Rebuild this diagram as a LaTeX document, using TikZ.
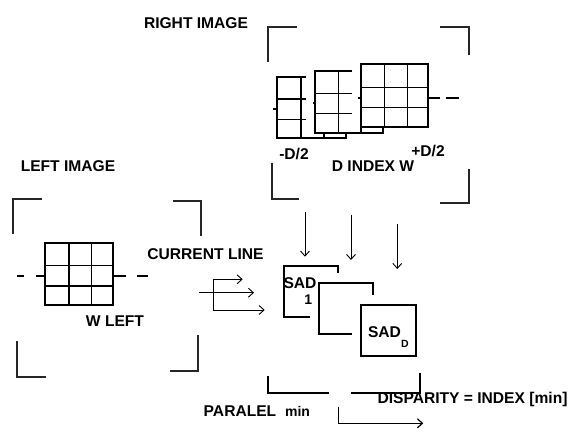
\documentclass[tikz,border=0pt]{standalone}
\usepackage{fontspec}
\setmainfont{Liberation Sans}
\usetikzlibrary{arrows.meta, positioning}

\begin{document}
\begin{tikzpicture}[
  x=1pt, y=-1pt,
  lbl/.style={font=\fontsize{15.6}{18}\selectfont\bfseries, inner sep=0pt, anchor=base},
  sublbl/.style={font=\fontsize{14}{16}\selectfont\bfseries, inner sep=0pt, anchor=base},
  corner/.style={line width=1.4pt, draw=black!85},
  win/.style={line width=2.2pt},
  cell/.style={line width=1.3pt},
  sad/.style={line width=2.2pt},
  narr/.style={line width=0.9pt, -{Straight Barb[length=5pt, width=9pt]}},
]
\useasboundingbox (0,0) rectangle (571,433);

% texts
\node[lbl] (rightimg) at (196,28.3) {RIGHT IMAGE};
\node[lbl] (leftimg) at (68,171.7) {LEFT IMAGE};
\node[lbl] (wleft) at (115,326.7) {W LEFT};
\node[lbl] (curline) at (205.5,260) {CURRENT LINE};
\node[lbl] (minusd) at (294,160) {-D/2};
\node[lbl] (plusd) at (428,156.7) {+D/2};
\node[lbl] (dindex) at (373,171.7) {D INDEX W};
\node[lbl] (sadone) at (300,288.3) {SAD};
\node[sublbl] (subone) at (308.3,305) {1};
\node[lbl] (sadd) at (384.5,337.3) {SAD};
\node[sublbl, font=\fontsize{10.5}{12}\selectfont\bfseries] (subd) at (405,347.5) {D};
\node[lbl] (paralel) at (240,416.7) {PARALEL};
\node[sublbl] (minlbl) at (297.5,416) {min};
\node[lbl] (disp) at (472.5,403.3) {DISPARITY = INDEX [min]};

% right image corners
\draw[corner] (268,62) |- (297,27);
\draw[corner] (440,27) -| (469,55);
\draw[corner] (272,163) |- (299,199);
\draw[corner] (440,203) -| (469,169);

% left image corners
\draw[corner] (13,234) |- (42,199);
\draw[corner] (173,201) -| (201,236);
\draw[corner] (17,341) |- (46,377);
\draw[corner] (170,371) -| (198,335);

% left window
\draw[cell] (45,265.7) -- (112.7,265.7) (45,286) -- (112.7,286)
  (69,243.3) -- (69,305) (91.7,243.3) -- (91.7,305);
\draw[win] (45,243.3) rectangle (112.7,305);
\draw[win] (17.3,276) -- (24.3,276) (35.7,276) -- (45,276)
  (112.7,276) -- (126,276) (136.7,276) -- (147.7,276);

% right windows, -D/2 ... +D/2
\draw[cell] (277.3,99) -- (306,99) (277.3,119.3) -- (306,119.3) (301,76.7) -- (301,137.7);
\draw[win] (306,76.7) -- (277.3,76.7) -- (277.3,137.7) -- (345.7,137.7) -- (345.7,132.7);
\draw[win] (273.3,109) -- (277.3,109);
\draw[cell] (315,93.3) -- (352.3,93.3) (315,113.3) -- (352.3,113.3) (338.3,70.7) -- (338.3,132.7);
\draw[win] (352.3,70.7) -- (315,70.7) -- (315,132.7) -- (383.3,132.7) -- (383.3,126.7);
\draw[win] (324.3,132.7) -- (324.3,137.7) (312.5,103) -- (315,103);
\draw[cell] (384.3,64.3) -- (384.3,126.7) (407.7,64.3) -- (407.7,126.7)
  (360.7,87.3) -- (428.3,87.3) (360.7,107.7) -- (428.3,107.7);
\draw[win] (360.7,64.3) rectangle (428.3,126.7);
\draw[win] (361.2,126.7) -- (361.2,132.7) (358,97.7) -- (360.7,97.7);
\draw[win] (428.3,98.3) -- (440,98.3) (445.7,98.3) -- (459.3,98.3);

% current line arrows
\coordinate (lnin) at (199.3,292.7);
\coordinate (lnout) at (254,292.7);
\coordinate (lnfork) at (213.3,292.7);
\coordinate (lntop) at (242.7,279.3);
\coordinate (lnbot) at (264.7,310);
\draw[narr] (lnin) -- (lnout);
\draw[narr] (lnfork) |- (lntop);
\draw[narr] (lnfork) |- (lnbot);

% arrows down to the SAD blocks
\coordinate (dwa) at (305,211.7);
\coordinate (dwb) at (351,215);
\coordinate (dwc) at (397.3,224);
\draw[narr] (dwa) -- ++(0,45);
\draw[narr] (dwb) -- ++(0,45);
\draw[narr] (dwc) -- ++(0,45);

% SAD blocks
\draw[sad] (310,317.3) -- (284,317.3) -- (284,265.7) -- (338.3,265.7) -- (338.3,273.3);
\draw[sad] (351.7,334) -- (319,334) -- (319,283.3) -- (373.3,283.3) -- (373.3,295);
\draw[sad] (360.7,305) rectangle (415.7,355.7);

% parallel min
\draw[sad] (268.3,376) |- (329,393.3);
\draw[sad] (350.7,393.3) -| (420,373.3);
\coordinate (mnfrom) at (338.3,406.7);
\coordinate (mnto) at (423.3,423.3);
\draw[narr, line width=1.2pt] (mnfrom) |- (mnto);

\end{tikzpicture}
\end{document}
